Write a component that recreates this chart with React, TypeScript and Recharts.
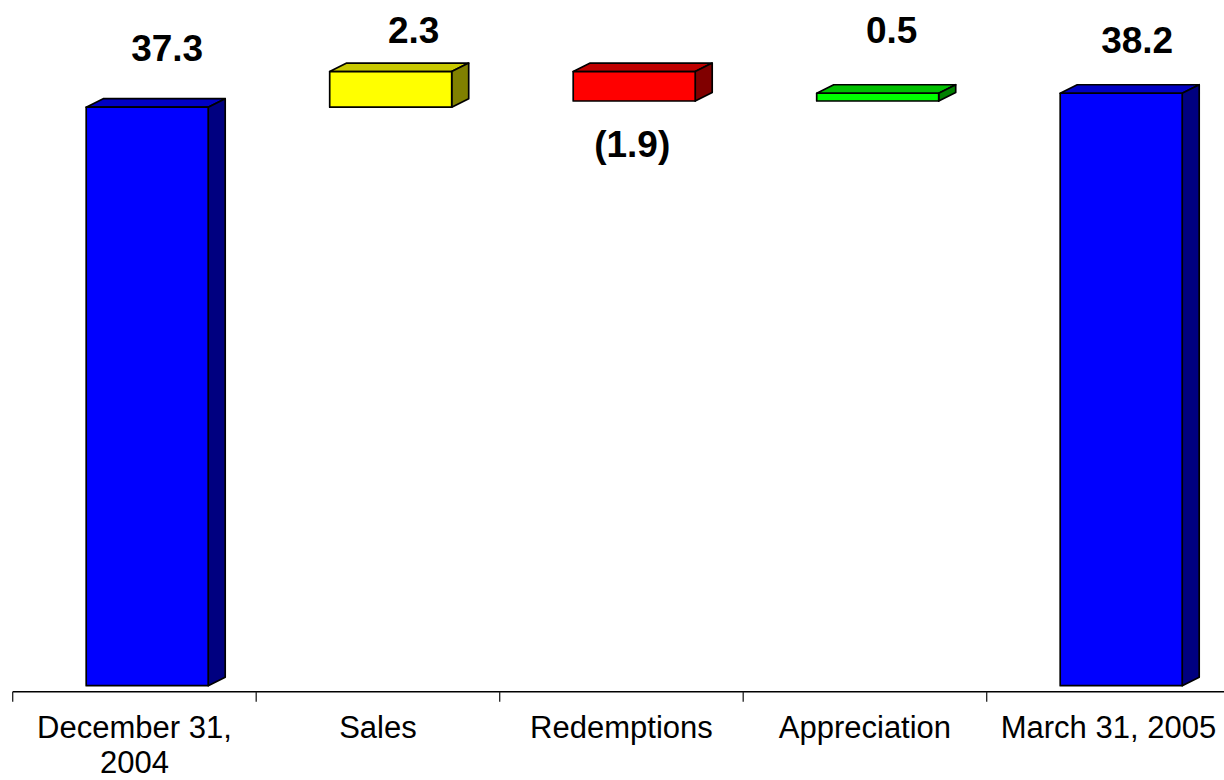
import React from 'react';
import { BarChart, Bar, XAxis, YAxis, LabelList } from 'recharts';

// Fund assets bridge (in billions): opening balance, flows, closing balance
const categories = ['December 31, 2004', 'Sales', 'Redemptions', 'Appreciation', 'March 31, 2005'];
const tickLabelLines = [['December 31,', '2004'], ['Sales'], ['Redemptions'], ['Appreciation'], ['March 31, 2005']];
const amounts = [37.3, 2.3, -1.9, 0.5, 38.2];
const isBalance = [true, false, false, false, true];

// Face colours of each box: front, top, side
const palettes = [
  { front: '#0000FF', top: '#0000C4', side: '#000080' },
  { front: '#FFFF00', top: '#C8C800', side: '#808000' },
  { front: '#FF0000', top: '#C00000', side: '#800000' },
  { front: '#00FF00', top: '#00C000', side: '#008000' },
  { front: '#0000FF', top: '#0000C4', side: '#000080' },
];

// Per-label nudges (dx, distance from the box face) for the value captions
const labelNudge: [number, number][] = [
  [20, 46],
  [23, 29],
  [-2, 56],
  [14, 50],
  [16, 40],
];

const CHART_W = 1232;
const CHART_H = 780;
const MARGIN = { top: 9.3, right: 1.8, bottom: 8.3, left: 12.7 };
const BAND = (CHART_W - MARGIN.left - MARGIN.right) / categories.length;
const BAR_W = 122;
const DEPTH_X = 17;
const DEPTH_Y = 8.5;
const SHIFT_X = 12.5; // boxes sit back from the axis in the 3D projection
const SHIFT_Y = 6;
const FONT = 'Arial, "Liberation Sans", Helvetica, sans-serif';

const formatAmount = (v: number) => (v < 0 ? `(${Math.abs(v).toFixed(1)})` : v.toFixed(1));

// Waterfall rows: each bar spans [low, high] of the running total
let running = 0;
const rows = categories.map((name, i) => {
  const v = amounts[i];
  let low: number;
  let high: number;
  if (isBalance[i]) {
    low = 0;
    high = v;
    running = v;
  } else {
    low = Math.min(running, running + v);
    high = Math.max(running, running + v);
    running += v;
  }
  return { name, idx: i, span: [low, high] };
});

const Box3D = (props: any) => {
  const { x, y, width, height } = props;
  const i = props.payload?.idx ?? props.index ?? 0;
  const p = palettes[i];
  const h = Math.abs(height);
  const top = (height < 0 ? y + height : y) - SHIFT_Y;
  const X = x + SHIFT_X;
  const W = width;
  const stroke = { stroke: '#000', strokeWidth: 1.7, strokeLinejoin: 'round' as const };
  return (
    <g>
      <polygon
        points={`${X},${top} ${X + DEPTH_X},${top - DEPTH_Y} ${X + W + DEPTH_X},${top - DEPTH_Y} ${X + W},${top}`}
        fill={p.top}
        {...stroke}
      />
      <polygon
        points={`${X + W},${top} ${X + W + DEPTH_X},${top - DEPTH_Y} ${X + W + DEPTH_X},${top + h - DEPTH_Y} ${X + W},${top + h}`}
        fill={p.side}
        {...stroke}
      />
      <rect x={X} y={top} width={W} height={h} fill={p.front} {...stroke} />
    </g>
  );
};

const ValueCaption = (props: any) => {
  const { x, y, width, height, index } = props;
  const i = index ?? 0;
  const v = amounts[i];
  const h = Math.abs(height);
  const top = (height < 0 ? y + height : y) - SHIFT_Y;
  const cx = x + SHIFT_X + width / 2 + labelNudge[i][0];
  const baseline = v < 0 ? top + h + labelNudge[i][1] : top - labelNudge[i][1];
  return (
    <text
      x={cx}
      y={baseline}
      textAnchor="middle"
      fontFamily={FONT}
      fontWeight="bold"
      fontSize={37}
      fill="#000"
    >
      {formatAmount(v)}
    </text>
  );
};

const CategoryTick = (props: any) => {
  const { x, y, payload, index } = props;
  const i = categories.indexOf(payload.value);
  const lines = tickLabelLines[i] ?? [String(payload.value)];
  const half = BAND / 2;
  return (
    <g>
      <line x1={x - half} x2={x - half} y1={y} y2={y + 10} stroke="#222" strokeWidth={1.3} />
      {index === categories.length - 1 && (
        <line x1={x + half} x2={x + half} y1={y} y2={y + 10} stroke="#222" strokeWidth={1.3} />
      )}
      <text x={x} y={y + 46} textAnchor="middle" fontFamily={FONT} fontSize={31} fill="#000">
        {lines.map((line, k) => (
          <tspan key={k} x={x} dy={k === 0 ? 0 : 35}>
            {line}
          </tspan>
        ))}
      </text>
    </g>
  );
};

export default function App() {
  return (
    <div
      style={{
        position: 'absolute',
        left: 0,
        top: 0,
        width: 1224,
        height: CHART_H,
        overflow: 'hidden',
        background: '#fff',
      }}
    >
      <BarChart width={CHART_W} height={CHART_H} data={rows} margin={MARGIN} barSize={BAR_W}>
        <XAxis
          dataKey="name"
          interval={0}
          height={80}
          tickLine={false}
          tickSize={0}
          tickMargin={0}
          axisLine={{ stroke: '#000', strokeWidth: 1.5 }}
          tick={<CategoryTick />}
        />
        <YAxis hide type="number" domain={[0, 44]} allowDataOverflow width={0} />
        <Bar dataKey="span" isAnimationActive={false} shape={<Box3D />}>
          <LabelList dataKey="span" content={<ValueCaption />} />
        </Bar>
      </BarChart>
    </div>
  );
}
